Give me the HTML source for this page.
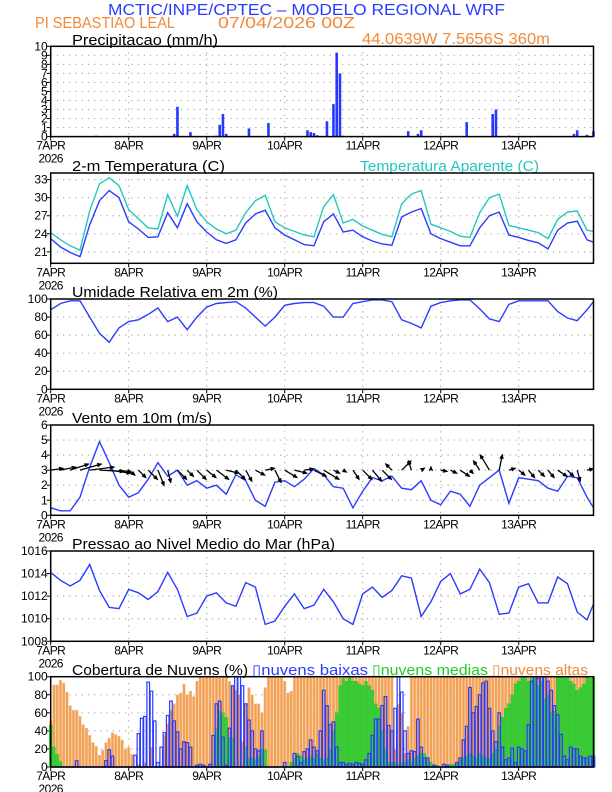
<!DOCTYPE html>
<html><head><meta charset="utf-8"><title>Meteograma WRF</title>
<style>
html,body{margin:0;padding:0;background:#fff;}
svg{display:block;font-family:"Liberation Sans",sans-serif;}
</style></head>
<body>
<svg id="chart" width="612" height="792" viewBox="0 0 612 792" xmlns="http://www.w3.org/2000/svg">
<text x="108" y="15" font-size="16" fill="#2a3cff" textLength="397" lengthAdjust="spacingAndGlyphs">MCTIC/INPE/CPTEC – MODELO REGIONAL WRF</text>
<text x="35" y="28" font-size="16" fill="#f08a3a" textLength="140" lengthAdjust="spacingAndGlyphs">PI SEBASTIAO LEAL</text>
<text x="218" y="28" font-size="16" fill="#f08a3a" textLength="137" lengthAdjust="spacingAndGlyphs">07/04/2026 00Z</text>
<text x="362" y="44" font-size="16" fill="#f08a3a" textLength="188" lengthAdjust="spacingAndGlyphs">44.0639W 7.5656S 360m</text>
<text x="72" y="45" font-size="15" fill="#000" textLength="146" lengthAdjust="spacingAndGlyphs">Precipitacao (mm/h)</text>
<text x="72" y="171" font-size="15" fill="#000" textLength="153" lengthAdjust="spacingAndGlyphs">2-m Temperatura (C)</text>
<text x="360" y="171" font-size="15" fill="#22c8c0" textLength="179" lengthAdjust="spacingAndGlyphs">Temperatura Aparente (C)</text>
<text x="72" y="297" font-size="15" fill="#000" textLength="206" lengthAdjust="spacingAndGlyphs">Umidade Relativa em 2m (%)</text>
<text x="72" y="423" font-size="15" fill="#000" textLength="140" lengthAdjust="spacingAndGlyphs">Vento em 10m (m/s)</text>
<text x="72" y="549" font-size="15" fill="#000" textLength="263" lengthAdjust="spacingAndGlyphs">Pressao ao Nivel Medio do Mar (hPa)</text>
<text x="72" y="675" font-size="15" fill="#000" textLength="176" lengthAdjust="spacingAndGlyphs">Cobertura de Nuvens (%)</text>
<text x="252" y="675" font-size="15" fill="#2a3cff" textLength="116" lengthAdjust="spacingAndGlyphs">▯nuvens baixas</text>
<text x="372" y="675" font-size="15" fill="#22cc22" textLength="116" lengthAdjust="spacingAndGlyphs">▯nuvens medias</text>
<text x="492" y="675" font-size="15" fill="#f08a3a" textLength="96" lengthAdjust="spacingAndGlyphs">▯nuvens altas</text>
</svg>
<script>
// ---- data ----
const dayLabels = ["7APR","8APR","9APR","10APR","11APR","12APR","13APR"];
const precipHours = [14,38,39,43,51,52,53,54,61,67,79,80,81,82,85,87,88,89,90,110,113,114,128,136,137,141,161,162,165,167];
const precipValues = [0.1,0.3,3.3,0.5,0.1,1.3,2.5,0.3,0.9,1.5,0.7,0.5,0.4,0.15,1.7,3.6,9.3,7.0,0.1,0.6,0.3,0.7,1.6,2.5,3.0,0.1,0.3,0.7,0.2,0.6];
const precipTicks = [0,1,2,3,4,5,6,7,8,9,10];
const tempBlue = [23.2,21.8,20.9,20.2,25.5,29.5,31.2,30.0,26.0,24.8,23.4,23.5,27.5,25.0,29.0,26.0,24.3,23.0,22.4,23.0,25.8,27.3,27.9,25.0,23.8,23.0,22.2,22.0,26.0,27.3,24.3,24.6,23.5,22.8,22.3,22.1,26.8,27.6,28.2,24.0,23.2,22.6,22.0,22.0,25.0,27.0,27.6,23.8,23.4,22.9,22.5,21.5,24.6,25.8,26.1,23.0,22.6];
const tempApparent = [24.2,23.0,22.0,21.3,27.8,32.3,33.3,32.0,28.0,26.5,25.0,24.8,30.5,26.9,32.0,28.0,26.0,24.8,24.0,24.6,27.5,29.5,30.4,26.0,25.0,24.4,23.8,23.5,28.5,30.5,25.8,26.4,25.3,24.6,23.9,23.5,29.0,30.6,31.2,25.6,25.0,24.4,23.6,23.4,27.5,30.0,30.6,25.4,25.0,24.6,24.2,23.2,26.4,27.6,27.8,24.6,24.4];
const tempTicks = [21,24,27,30,33];
const humidity = [88,95,98,98,80,62,52,68,75,77,83,90,75,80,66,80,91,95,96,97,90,80,70,80,93,95,96,96,92,80,80,95,97,99,99,97,77,73,68,92,96,98,99,99,89,78,75,94,98,98,98,98,86,79,76,88,97];
const humidityTicks = [0,20,40,60,80,100];
const windSpeed = [0.5,0.3,0.3,1.2,3.2,4.9,3.5,2.0,1.2,1.5,2.4,3.5,2.6,3.0,2.0,2.3,1.8,2.0,1.4,2.7,2.3,1.0,0.6,2.2,2.3,1.9,2.4,3.1,2.7,1.9,1.8,0.5,1.6,2.5,2.3,2.6,1.8,1.7,2.3,1.0,0.7,1.6,1.4,0.6,2.0,2.5,3.0,0.8,2.5,2.4,2.3,1.8,1.6,2.6,2.5,1.2,0.5];
const windU = [2,2.5,3,3.5,4,4,3.5,2,1,1.2,1.5,1,0.5,1.5,1,1.5,1.5,2,2,1.5,1,1.5,1.5,1,2,2,1.5,2,2.5,1,0.5,1,1.5,1.5,1.5,-1,1.5,-0.5,0.5,0,1,1,1.5,0.5,-1,-1.5,0.5,1,1,1,1,1,1.5,1,0.5,1,1];
const windV = [0.3,0.5,1,1,0.5,-0.2,-0.5,-0.3,-0.8,-1.2,-1.5,-2.5,-2,-1.5,-1,-1.5,-1.2,-1.5,-0.5,-1.5,-1.8,-0.8,0.3,-2,-1.2,-0.5,0.2,-1,-1.5,-0.5,-0.3,-1.5,-1.5,-1.8,-1.5,1,1.5,1.5,0.3,0.5,-0.2,-0.5,-1,-0.5,1.5,2.5,2.5,0.3,-0.8,-1.2,-1,-1.2,-1,-1,-1.8,0.2,0];
const windTicks = [0,1,2,3,4,5,6];
const pressure = [1014.1,1013.4,1012.9,1013.4,1014.8,1012.5,1011.0,1010.9,1012.6,1012.3,1011.7,1012.4,1014.1,1012.6,1010.2,1010.5,1012.0,1012.3,1011.4,1011.1,1013.2,1012.8,1009.5,1009.8,1011.1,1012.2,1010.9,1011.2,1012.6,1011.5,1010.0,1009.5,1012.2,1012.8,1011.9,1012.5,1013.8,1013.6,1010.2,1011.5,1013.3,1014.0,1012.2,1012.6,1014.4,1013.2,1010.4,1010.5,1012.8,1013.1,1011.4,1011.4,1013.7,1013.1,1010.6,1009.9,1011.3];
const pressureTicks = [1008,1010,1012,1014,1016];
const cloudTicks = [0,20,40,60,80,100];
const cloudHigh = [51,91,91,96,93,83,68,63,63,56,47,43,35,27,23,13,19,27,32,38,36,34,30,20,22,14,0,3,0,5,0,22,0,0,0,35,48,63,70,80,82,92,80,84,78,95,100,100,100,100,100,100,100,100,100,95,90,85,80,28,70,88,80,70,70,60,88,100,100,100,100,100,95,82,84,
100,100,100,100,100,100,100,100,100,100,100,100,100,100,100,100,100,100,100,100,100,100,100,100,100,100,100,100,100,100,100,20,70,60,15,45,
100,100,100,100,100,100,100,100,100,100,100,100,100,100,100,100,100,100,100,100,100,100,100,100,100,100,100,100,100,100,100,100,100,100,100,100,100,100,100,100,100,100,100,100,100,100,100,100,100,100,100,100,100,100,100,100,100];
const cloudMid = [46,22,14,6,
0,0,0,0,0,0,0,0,0,0,0,0,0,0,0,0,0,0,0,0,0,0,0,0,0,0,0,0,0,0,0,0,0,0,0,0,0,0,0,0,0,0,0,0,0,0,0,
42,62,60,55,33,32,0,0,0,22,10,10,8,12,20,19,0,0,0,0,0,0,0,
5,10,15,12,8,10,12,10,15,10,8,10,20,40,60,90,98,95,100,95,95,92,90,95,90,85,70,65,40,20,5,5,5,3,5,5,8,5,10,12,15,15,10,5,2,2,0,0,2,3,3,5,8,10,12,15,12,10,15,12,10,
10,15,20,45,55,65,70,80,92,95,100,100,95,100,100,90,95,75,80,60,62,100,100,100,100,95,92,85,88,92,100,98,100];
const cloudLow = [0,0,0,0,0,0,0,0,7,0,0,0,0,0,0,0,0,7,19,12,0,0,0,0,0,0,13,37,54,56,94,84,51,5,22,38,57,73,51,39,20,28,27,22,0,2,3,2,0,3,35,70,73,33,2,43,90,100,100,90,70,52,40,20,18,40,0,0,0,0,0,0,5,0,0,15,12,5,17,20,30,22,18,40,85,68,47,50,22,5,5,3,4,3,5,4,3,8,15,35,53,53,68,78,46,40,65,100,83,40,15,18,17,53,22,10,10,0,2,0,0,3,2,0,0,5,10,30,45,88,60,67,80,93,95,65,40,28,60,22,8,10,21,5,22,20,18,47,95,100,98,100,100,95,85,68,58,36,12,8,22,20,20,12,10,10,12,12];

// ---- geometry ----
const NS = "http://www.w3.org/2000/svg";
const svg = document.getElementById("chart");
const X0 = 50.7, HPX = 3.25, X1 = 593.5, PH = 90.3;
function X(h){ return X0 + h*HPX; }
function mk(tag, attrs, parent){
  const e = document.createElementNS(NS, tag);
  for (const k in attrs) e.setAttribute(k, attrs[k]);
  (parent||svg).appendChild(e);
  return e;
}
function panel(name, top, ymin, ymax, ticks){
  const g = mk("g", {});
  
  
  const Y = v => top + PH - (v - ymin) / (ymax - ymin) * PH;
  ticks.forEach(t => {
    const y = Y(t);
    if (t !== ymin && t !== ymax) {
      const gl = mk("line", {x1:X0, x2:X1, y1:y, y2:y, stroke:"#aaa", "stroke-width":1.2, "stroke-dasharray":"1.2 5"}, g);
      
      
    }
    const tk = mk("line", {x1:X0-4, x2:X0, y1:y, y2:y, stroke:"#000", "stroke-width":1}, g);
    
    
    const lb = mk("text", {x:X0-3, y:y+4, "font-size":12, "text-anchor":"end", fill:"#000"}, g);
    
    
    lb.textContent = t;
  });
  for (let d = 1; d < 7; d++) {
    const x = X(d*24);
    const vl = mk("line", {x1:x, x2:x, y1:top, y2:top+PH, stroke:"#aaa", "stroke-width":1.2, "stroke-dasharray":"1.2 5"}, g);
    
    
  }
  dayLabels.forEach((lab, d) => {
    const x = X(d*24);
    const tk = mk("line", {x1:x, x2:x, y1:top+PH, y2:top+PH+4, stroke:"#000", "stroke-width":1}, g);
    
    
    const t = mk("text", {x:x, y:top+PH+13, "font-size":12, "text-anchor":"middle", fill:"#000", "letter-spacing":"-0.6"}, g);
    
    
    t.textContent = lab;
  });
  const yr = mk("text", {x:X0, y:top+PH+26, "font-size":12, "text-anchor":"middle", fill:"#000", "letter-spacing":"-0.6"}, g);
  
  
  yr.textContent = "2026";
  return {g, Y, top};
}
function frame(p){
  const r = mk("rect", {x:X0, y:p.top, width:X1-X0, height:PH, fill:"none", stroke:"#000", "stroke-width":1.5});
  
  
}
function line(p, vals, color, name){
  const pts = vals.map((v,i) => [Math.min(X(i*3), X1), p.Y(v)]);
  const pl = mk("polyline", {points: pts.map(q => q[0].toFixed(1)+","+q[1].toFixed(1)).join(" "), fill:"none", stroke:color, "stroke-width":1.4}, p.g);
  
  
}

const pP = panel("precipitation", 46.3, 0, 10, precipTicks);
precipHours.forEach((h,i) => {
  const y = pP.Y(precipValues[i]);
  const b = mk("rect", {x:X(h)-1.3, y:y, width:2.6, height:pP.Y(0)-y, fill:"#2438ff"}, pP.g);
  
  
});
frame(pP);

const pT = panel("temperature", 173, 19.1, 34.1, tempTicks);
line(pT, tempApparent, "#22c8c0", "apparent-temperature-line");
line(pT, tempBlue, "#2a3cff", "temperature-line");
frame(pT);

const pH = panel("humidity", 299, 0, 100, humidityTicks);
line(pH, humidity, "#2a3cff", "humidity-line");
frame(pH);

const pW = panel("wind", 425, 0, 6, windTicks);
line(pW, windSpeed, "#2a3cff", "wind-speed-line");
windU.forEach((u,i) => {
  const x = X(i*3); if (x > X1) return;
  const y = pW.Y(3);
  const k = 6;
  const ex = x + u*k, ey = y - windV[i]*k;
  const ang = Math.atan2(ey-y, ex-x);
  const a = mk("path", {d:`M${x},${y}L${ex},${ey}M${ex-4*Math.cos(ang-0.4)},${ey-4*Math.sin(ang-0.4)}L${ex},${ey}L${ex-4*Math.cos(ang+0.4)},${ey-4*Math.sin(ang+0.4)}`, stroke:"#000", "stroke-width":1.3, fill:"none"}, pW.g);
  
  
});
frame(pW);

const pPr = panel("pressure", 551, 1008, 1016, pressureTicks);
line(pPr, pressure, "#2a3cff", "pressure-line");
frame(pPr);

const pC = panel("clouds", 676.7, 0, 100, cloudTicks);
cloudHigh.forEach((v,h) => {
  const y = pC.Y(v);
  const b = mk("rect", {x:X(h)-1.3, y:y, width:2.6, height:pC.Y(0)-y, fill:"#f5a050", stroke:"#f0c8a0", "stroke-width":0.5}, pC.g);
  
  
});
cloudMid.forEach((v,h) => {
  if (!v) return;
  const y = pC.Y(v);
  const b = mk("rect", {x:X(h)-1.4, y:y, width:2.8, height:pC.Y(0)-y, fill:"#3ec83a", stroke:"#22cc22", "stroke-width":0.5}, pC.g);
  
  
});
cloudLow.forEach((v,h) => {
  if (!v) return;
  const y = pC.Y(v);
  const b = mk("rect", {x:X(h)-1.3, y:y, width:2.6, height:pC.Y(0)-y, fill:"none", stroke:"#2a3cff", "stroke-width":1.2}, pC.g);
  
  
});
const base = mk("line", {x1:X0, x2:X1, y1:pC.Y(0), y2:pC.Y(0), stroke:"#2a3cff", "stroke-width":1.5}, pC.g);


frame(pC);
</script>
</body></html>
